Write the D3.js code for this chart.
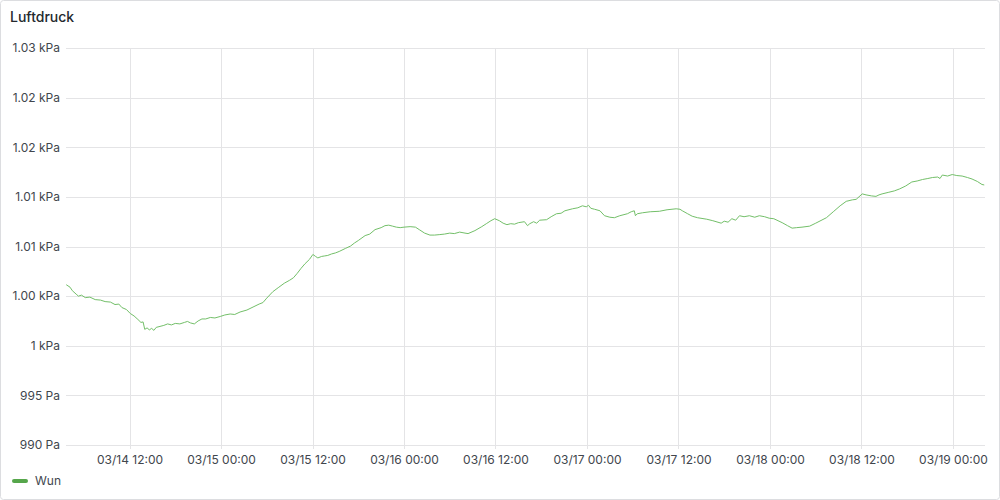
<!DOCTYPE html>
<html lang="en">
<head>
    <meta charset="UTF-8">
    <title>Luftdruck</title>
    <script src="https://d3js.org/d3.v7.min.js"></script>
    <style>
        body {
            margin: 0;
            background: #ffffff;
        }
        svg text {
            font-family: Inter, "Noto Sans", sans-serif;
        }
        .grid line {
            stroke: #e4e4e6;
            stroke-width: 1;
        }
        .axis text {
            fill: #41464d;
            font-size: 12px;
        }
    </style>
</head>
<body>
    <svg id="chart" width="1000" height="500"></svg>

    <script>
        // hours since 03/14 00:00
        const hours = [3.7, 4.2, 4.5, 5.0, 5.3, 5.7, 6.2, 6.8, 7.5, 8.2, 8.8, 9.5, 10.1, 10.6, 11.0, 11.6, 12.1, 12.6, 13.1, 13.5,
            13.78, 14.0, 14.3, 14.6, 14.9, 15.2, 15.5, 16.0, 16.5, 17.0, 17.5, 18.0, 18.6, 19.2, 19.6, 20.0, 20.5, 21.0, 21.5, 22.0,
            22.6, 23.2, 23.9, 24.5, 25.2, 25.8, 26.5, 27.4, 28.2, 29.0, 29.5, 30.0, 30.8, 31.5, 32.3, 33.0, 33.5, 34.0, 34.5, 35.0,
            35.6, 36.05, 36.4, 36.7, 37.2, 37.6, 38.0, 38.5, 39.0, 39.5, 40.3, 41.0, 41.5, 42.0, 42.9, 43.5, 44.2, 45.0, 45.5, 46.0,
            46.5, 47.0, 47.5, 48.0, 48.8, 49.5, 50.0, 50.7, 51.4, 52.0, 52.7, 53.3, 54.0, 54.6, 55.3, 56.0, 56.4, 57.3, 58.2, 58.8,
            59.4, 59.9, 60.5, 61.0, 61.5, 62.0, 62.5, 63.0, 63.8, 64.2, 64.5, 65.0, 65.4, 65.8, 66.7, 67.3, 68.0, 68.6, 69.1, 70.1,
            70.8, 71.4, 71.9, 72.2, 72.5, 73.0, 73.7, 74.3, 75.0, 75.6, 76.3, 77.3, 77.8, 78.2, 78.35, 78.6, 79.3, 80.3, 81.5, 82.5,
            83.7, 84.2, 84.5, 85.2, 85.8, 86.5, 87.7, 88.5, 89.6, 90.0, 90.5, 91.0, 91.5, 92.0, 92.6, 93.3, 94.0, 94.6, 95.3, 95.9,
            96.5, 97.6, 98.3, 98.9, 99.5, 100.2, 101.2, 102.0, 103.4, 104.3, 105.2, 106.0, 106.8, 107.3, 108.1, 108.6, 109.3, 109.9, 110.3, 110.7,
            111.5, 112.3, 113.0, 113.8, 114.6, 115.3, 116.0, 116.7, 117.3, 118.0, 118.3, 118.6, 119.3, 119.9, 120.5, 121.2, 121.9, 122.5, 123.2, 123.8,
            124.1];

        // pressure in Pa
        const pressure = [1006.15, 1005.9, 1005.55, 1005.2, 1005.0, 1005.1, 1004.85, 1004.9, 1004.65, 1004.6, 1004.45, 1004.4, 1004.15, 1004.2, 1003.85, 1003.65, 1003.25, 1003.0, 1002.65, 1002.35,
            1002.4, 1001.65, 1001.8, 1001.6, 1001.75, 1001.55, 1001.85, 1001.95, 1002.05, 1002.2, 1002.1, 1002.25, 1002.2, 1002.35, 1002.45, 1002.3, 1002.2, 1002.5, 1002.7, 1002.7,
            1002.85, 1002.8, 1002.95, 1003.1, 1003.2, 1003.15, 1003.4, 1003.6, 1003.9, 1004.2, 1004.35, 1004.8, 1005.45, 1005.85, 1006.3, 1006.6, 1006.85, 1007.3, 1007.8, 1008.25,
            1008.7, 1009.2, 1009.0, 1008.85, 1009.0, 1009.05, 1009.1, 1009.25, 1009.35, 1009.5, 1009.8, 1010.05, 1010.35, 1010.6, 1011.1, 1011.25, 1011.7, 1011.9, 1012.1, 1012.15,
            1012.05, 1011.95, 1011.9, 1011.95, 1012.0, 1011.95, 1011.7, 1011.35, 1011.15, 1011.15, 1011.2, 1011.25, 1011.35, 1011.3, 1011.45, 1011.35, 1011.3, 1011.6, 1012.0, 1012.3,
            1012.6, 1012.8, 1012.6, 1012.35, 1012.2, 1012.3, 1012.25, 1012.4, 1012.5, 1012.1, 1012.3, 1012.5, 1012.35, 1012.65, 1012.7, 1013.0, 1013.3, 1013.35, 1013.6, 1013.8,
            1013.9, 1014.1, 1014.0, 1014.15, 1013.85, 1013.75, 1013.6, 1013.1, 1012.95, 1012.9, 1013.1, 1013.3, 1013.5, 1013.6, 1013.1, 1013.3, 1013.4, 1013.5, 1013.55, 1013.7,
            1013.8, 1013.75, 1013.6, 1013.3, 1013.05, 1012.9, 1012.75, 1012.6, 1012.35, 1012.55, 1012.45, 1012.8, 1012.65, 1013.1, 1013.0, 1013.1, 1012.95, 1013.1, 1013.0, 1012.85,
            1012.8, 1012.4, 1012.1, 1011.85, 1011.9, 1011.95, 1012.05, 1012.35, 1012.9, 1013.5, 1014.1, 1014.55, 1014.7, 1014.75, 1015.3, 1015.2, 1015.1, 1015.05, 1015.2, 1015.3,
            1015.45, 1015.6, 1015.8, 1016.1, 1016.5, 1016.6, 1016.75, 1016.85, 1016.95, 1017.0, 1016.85, 1017.2, 1017.1, 1017.25, 1017.15, 1017.1, 1016.95, 1016.8, 1016.55, 1016.25,
            1016.2];

        const yTicks = [990, 995, 1000, 1005, 1010, 1015, 1020, 1025, 1030];
        const yTickLabels = ["990 Pa", "995 Pa", "1 kPa", "1.00 kPa", "1.01 kPa", "1.01 kPa", "1.02 kPa", "1.02 kPa", "1.03 kPa"];
        const xTickHours = [12, 24, 36, 48, 60, 72, 84, 96, 108, 120];
        const xDomainHours = [3.67, 124.2];
        const seriesName = "Wun";
        const title = "Luftdruck";

        const svg = d3.select("#chart");
        const margin = { top: 48, right: 15, bottom: 55, left: 66 };
        const width = +svg.attr("width");
        const height = +svg.attr("height");

        const base = new Date(2024, 2, 14, 0, 0);
        const toDate = h => new Date(base.getTime() + h * 3600 * 1000);

        const data = hours.map((h, i) => ({ t: toDate(h), v: pressure[i] }));

        // panel frame
        svg.append("rect")
            .attr("x", 0.5).attr("y", 0.5)
            .attr("width", width - 1).attr("height", height - 1)
            .attr("rx", 3)
            .attr("fill", "#ffffff")
            .attr("stroke", "#dcdde0");

        svg.append("text")
            .attr("x", 10).attr("y", 22)
            .attr("fill", "#24292e")
            .style("font-size", "14px")
            .style("font-weight", 500)
            .text(title);

        const x = d3.scaleTime()
            .domain(xDomainHours.map(toDate))
            .range([margin.left, width - margin.right]);

        const y = d3.scaleLinear()
            .domain([990, 1030])
            .range([height - margin.bottom, margin.top]);

        // grid
        const grid = svg.append("g").attr("class", "grid");
        grid.selectAll("line.h").data(yTicks).join("line")
            .attr("class", "h")
            .attr("x1", margin.left).attr("x2", width - margin.right)
            .attr("y1", d => Math.round(y(d)) + 0.5).attr("y2", d => Math.round(y(d)) + 0.5);
        grid.selectAll("line.v").data(xTickHours).join("line")
            .attr("class", "v")
            .attr("x1", d => Math.round(x(toDate(d))) + 0.5).attr("x2", d => Math.round(x(toDate(d))) + 0.5)
            .attr("y1", margin.top).attr("y2", height - margin.bottom + 4);

        // y axis
        const yAxis = d3.axisLeft(y)
            .tickValues(yTicks)
            .tickSize(0)
            .tickPadding(6)
            .tickFormat((d, i) => yTickLabels[i]);
        svg.append("g")
            .attr("class", "axis")
            .attr("transform", `translate(${margin.left},0)`)
            .call(yAxis)
            .call(g => g.select(".domain").remove());

        // x axis
        const xAxis = d3.axisBottom(x)
            .tickValues(xTickHours.map(toDate))
            .tickSize(0)
            .tickPadding(10)
            .tickFormat(d3.timeFormat("%m/%d %H:%M"));
        svg.append("g")
            .attr("class", "axis")
            .attr("transform", `translate(0,${height - margin.bottom})`)
            .call(xAxis)
            .call(g => g.select(".domain").remove());

        // series
        const line = d3.line()
            .x(d => x(d.t))
            .y(d => y(d.v));
        svg.append("path")
            .datum(data)
            .attr("fill", "none")
            .attr("stroke", "#73bf69")
            .attr("stroke-width", 1)
            .attr("d", line);

        // legend
        const legend = svg.append("g").attr("transform", "translate(13,481)");
        legend.append("line")
            .attr("x1", 1).attr("x2", 13)
            .attr("stroke", "#56a64b")
            .attr("stroke-width", 4)
            .attr("stroke-linecap", "round");
        legend.append("text")
            .attr("x", 22).attr("dy", "0.35em")
            .attr("fill", "#41464d")
            .style("font-size", "12px")
            .text(seriesName);
    </script>
</body>
</html>
